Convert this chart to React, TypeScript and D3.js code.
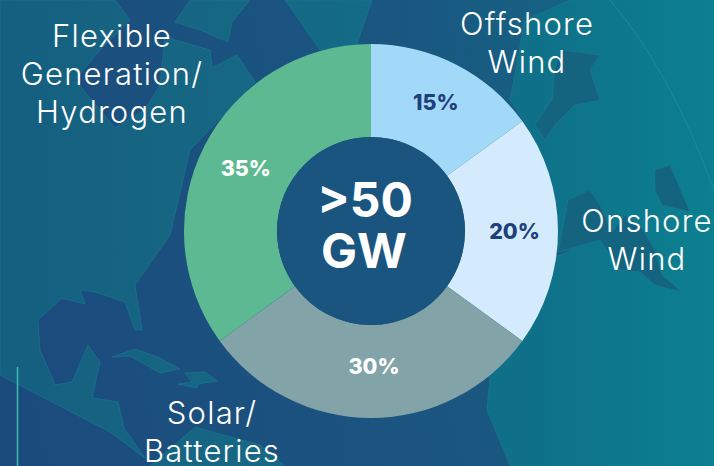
import * as d3 from "d3";

const WIDTH = 714;
const HEIGHT = 466;
const CENTER = { x: 371, y: 231 };
const OUTER = 187;
const INNER = 94;

const segments = ["Offshore Wind", "Onshore Wind", "Solar/Batteries", "Flexible Generation/Hydrogen"];
const shares = [15, 20, 30, 35];
const fills = ["#a3d9f8", "#d3ebfc", "#82a3a8", "#5cb991"];
const valueColors = ["#1f3f7c", "#1f3f7c", "#ffffff", "#ffffff"];
const valueNudges = [[1, -4], [3, 0], [3, -5], [0, 1]];

const captions = [
  { lines: ["Flexible", "Generation/", "Hydrogen"], x: 112, y: 47 },
  { lines: ["Offshore", "Wind"], x: 527, y: 35 },
  { lines: ["Onshore", "Wind"], x: 647, y: 232 },
  { lines: ["Solar/", "Batteries"], x: 212, y: 424 },
];

// Backdrop map silhouettes, only rough shapes behind the chart.
const LAND = [
  "M0 375 L110 432 L145 458 L124 428 L118 402 L92 398 L100 362 L88 345 L72 382 L55 385 L40 350 L38 320 L62 298 L85 304 L80 290 L95 292 L125 302 L135 330 L142 330 L135 285 L170 235 L190 150 L255 82 L237 55 L212 68 L210 50 L165 37 L160 85 L145 110 L115 128 L75 80 L100 50 L130 20 L115 0 L0 0 Z",
  "M190 0 L250 0 L232 22 L228 42 L200 30 L175 22 Z",
  "M285 0 L320 50 L357 44 L372 0 Z",
  "M150 466 L195 427 L260 445 L285 466 Z",
  "M112 357 L135 349 L160 358 L180 369 L160 373 L130 356 Z",
  "M185 373 L205 372 L217 381 L198 384 L197 388 L178 384 L192 382 Z",
  "M510 466 L487 410 L490 376 L530 320 L555 257 L600 240 L714 240 L714 466 Z",
  "M525 20 L570 0 L714 0 L714 250 L540 250 L530 130 L510 100 Z",
];
const INLAND_SEAS = [
  "M560 50 L600 55 L590 70 L600 100 L575 105 L555 125 L545 140 L535 125 L552 100 L555 70 Z",
  "M558 252 L568 200 L590 190 L600 205 L612 232 L625 215 L640 225 L655 250 L662 275 L682 292 L655 285 L640 272 L620 270 L600 240 Z",
  "M655 170 L670 165 L685 200 L690 212 L662 205 L655 190 Z",
];
const GLOBE_RIM = "M610 0 Q670 70 714 190";

export default function App() {
  const arc = d3.arc<d3.PieArcDatum<number>>().innerRadius(INNER).outerRadius(OUTER);
  const pie = d3.pie<number>().sort(null)(shares);

  return (
    <svg
      width={WIDTH}
      height={HEIGHT}
      viewBox={`0 0 ${WIDTH} ${HEIGHT}`}
      style={{ position: "absolute", left: 0, top: 0, fontFamily: "Inter, sans-serif" }}
    >
      <defs>
        <linearGradient id="sea" gradientUnits="userSpaceOnUse" x1="0" y1="300" x2={WIDTH} y2="150">
          <stop offset="0" stopColor="#1b4b7d" />
          <stop offset="0.6" stopColor="#1a5680" />
          <stop offset="1" stopColor="#126a85" />
        </linearGradient>
        <linearGradient id="landFill" gradientUnits="userSpaceOnUse" x1="0" y1="0" x2={WIDTH} y2="0">
          <stop offset="0" stopColor="#155f80" />
          <stop offset="0.36" stopColor="#166884" />
          <stop offset="0.75" stopColor="#0f7189" />
          <stop offset="1" stopColor="#0b8090" />
        </linearGradient>
      </defs>
      <rect width={WIDTH} height={HEIGHT} fill="url(#sea)" />
      {LAND.map((d) => (
        <path key={d} d={d} fill="url(#landFill)" stroke="#1b7a92" strokeWidth={1} strokeOpacity={0.6} />
      ))}
      {INLAND_SEAS.map((d) => (
        <path key={d} d={d} fill="#14637f" stroke="#1b7a92" strokeWidth={1} strokeOpacity={0.6} />
      ))}
      <path d={GLOBE_RIM} fill="none" stroke="#1d8a99" strokeWidth={1} />
      <line x1={17.5} x2={17.5} y1={367} y2={HEIGHT} stroke="#3cbcb0" strokeWidth={1.5} />

      <g transform={`translate(${CENTER.x},${CENTER.y})`}>
        {pie.map((p, i) => (
          <path key={segments[i]} d={arc(p) ?? ""} fill={fills[i]}>
            <title>{segments[i]}</title>
          </path>
        ))}
        <circle r={INNER} fill="#1a5580" />
        {pie.map((p, i) => {
          const [cx, cy] = arc.centroid(p);
          return (
            <text
              key={segments[i]}
              x={cx + valueNudges[i][0]}
              y={cy + valueNudges[i][1]}
              dy="0.36em"
              textAnchor="middle"
              fontWeight={800}
              fontSize={21.5}
              fill={valueColors[i]}
            >
              {shares[i]}%
            </text>
          );
        })}
        <text x={-6} y={-14} textAnchor="middle" fontWeight={700} fontSize={48} fill="#fff">
          &gt;50
        </text>
        <text x={-7} y={37} textAnchor="middle" fontWeight={700} fontSize={48} fill="#fff">
          GW
        </text>
      </g>

      {captions.map((c) => (
        <text key={c.lines[0]} textAnchor="middle" fontSize={31} fontWeight={300} letterSpacing={1.2} fill="#fff">
          {c.lines.map((line, i) => (
            <tspan key={line} x={c.x} y={c.y + i * 38}>
              {line}
            </tspan>
          ))}
        </text>
      ))}
    </svg>
  );
}
